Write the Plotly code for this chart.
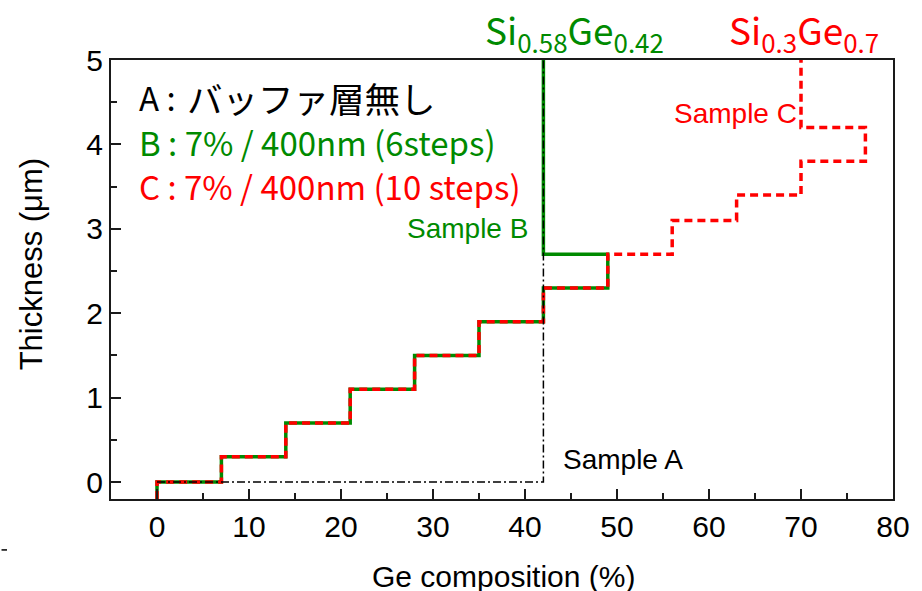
import plotly.graph_objects as go

# ---- data ----
b_x = [0, 0, 7, 7, 14, 14, 21, 21, 28, 28, 35, 35, 42, 42, 49, 49, 42, 42]
b_y = [-0.2, 0, 0, 0.3, 0.3, 0.7, 0.7, 1.1, 1.1, 1.5, 1.5, 1.9, 1.9, 2.3, 2.3, 2.7, 2.7, 5]

c_x = [0, 0, 7, 7, 14, 14, 21, 21, 28, 28, 35, 35, 42, 42, 49, 49, 56, 56, 63, 63, 70, 70, 77, 77, 70, 70]
c_y = [-0.2, 0, 0, 0.3, 0.3, 0.7, 0.7, 1.1, 1.1, 1.5, 1.5, 1.9, 1.9, 2.3, 2.3, 2.7, 2.7, 3.1, 3.1, 3.4, 3.4, 3.8, 3.8, 4.2, 4.2, 5]

a_x = [0, 42, 42]
a_y = [0, 0, 5]

x_ticks = [0, 10, 20, 30, 40, 50, 60, 70, 80]
y_ticks = [0, 1, 2, 3, 4, 5]

GREEN = "#008a00"
RED = "#ff0000"
ARIAL = "Liberation Sans, Arial"
CJK = "Noto Sans CJK JP"

fig = go.Figure()
fig.add_trace(go.Scatter(x=b_x, y=b_y, mode="lines",
                         line=dict(color=GREEN, width=3.5), name="B"))
fig.add_trace(go.Scatter(x=c_x, y=c_y, mode="lines",
                         line=dict(color=RED, width=3.5, dash="8px,5px"), name="C"))
fig.add_trace(go.Scatter(x=a_x, y=a_y, mode="lines",
                         line=dict(color="black", width=1.5, dash="8px,3px,2px,3px"), name="A"))

annos = [
    dict(x=-2.15, y=4.56, text="A :", color="black", font=CJK, size=33, xanchor="left"),
    dict(x=3.0, y=4.56, text="バッファ層無し", color="black", font=CJK, size=35.5, xanchor="left"),
    dict(x=-2.15, y=4.03, text="B : 7% / 400nm (6steps)", color=GREEN, font=CJK, size=33, xanchor="left"),
    dict(x=-2.15, y=3.51, text="C : 7% / 400nm (10 steps)", color=RED, font=CJK, size=33, xanchor="left"),
    dict(x=33.7, y=3.0, text="Sample B", color=GREEN, font=ARIAL, size=28, xanchor="center"),
    dict(x=50.7, y=0.27, text="Sample A", color="black", font=ARIAL, size=28, xanchor="center"),
    dict(x=62.9, y=4.37, text="Sample C", color=RED, font=ARIAL, size=28, xanchor="center"),
]
for a in annos:
    fig.add_annotation(x=a["x"], y=a["y"], xref="x", yref="y", text=a["text"],
                       showarrow=False, xanchor=a["xanchor"], yanchor="middle",
                       font=dict(family=a["font"], size=a["size"], color=a["color"]))

# composition labels above the frame
tops = [
    dict(x=45.4, text="Si<sub>0.58</sub>Ge<sub>0.42</sub>", color=GREEN),
    dict(x=70.3, text="Si<sub>0.3</sub>Ge<sub>0.7</sub>", color=RED),
]
for t in tops:
    fig.add_annotation(x=t["x"], y=1.065, xref="x", yref="paper", text=t["text"],
                       showarrow=False, xanchor="center", yanchor="middle",
                       font=dict(family=CJK, size=37, color=t["color"]))

# axis titles as annotations for precise placement
fig.add_annotation(x=-0.102, y=0.535, xref="paper", yref="paper", text="Thickness (μm)",
                   textangle=-90, showarrow=False, xanchor="center", yanchor="middle",
                   font=dict(family=ARIAL, size=31, color="black"))
fig.add_annotation(x=0.502, y=-0.176, xref="paper", yref="paper", text="Ge composition (%)",
                   showarrow=False, xanchor="center", yanchor="middle",
                   font=dict(family=ARIAL, size=30, color="black"))

# stray mark at left edge
fig.add_shape(type="line", xref="paper", yref="paper", x0=-0.140, x1=-0.133,
              y0=-0.116, y1=-0.116, line=dict(color="black", width=1.5))

axis_common = dict(showgrid=False, zeroline=False, showline=True, linecolor="#1a1a1a",
                   linewidth=2, mirror=True, ticks="inside", ticklen=10, tickwidth=1.5,
                   tickcolor="#1a1a1a",
                   tickfont=dict(family=ARIAL, size=30, color="black"))

fig.update_xaxes(range=[-5, 80], tickvals=x_ticks,
                 minor=dict(ticks="inside", dtick=5, ticklen=6, tickwidth=1.5, tickcolor="#1a1a1a"),
                 **axis_common)
fig.update_yaxes(range=[-0.2, 5], tickvals=y_ticks,
                 minor=dict(ticks="inside", dtick=0.5, ticklen=6, tickwidth=1.5, tickcolor="#1a1a1a"),
                 **axis_common)

fig.update_layout(width=922, height=591, showlegend=False,
                  margin=dict(l=111, r=19, t=60, b=92),
                  plot_bgcolor="white", paper_bgcolor="white")

fig.write_html("out.html")
